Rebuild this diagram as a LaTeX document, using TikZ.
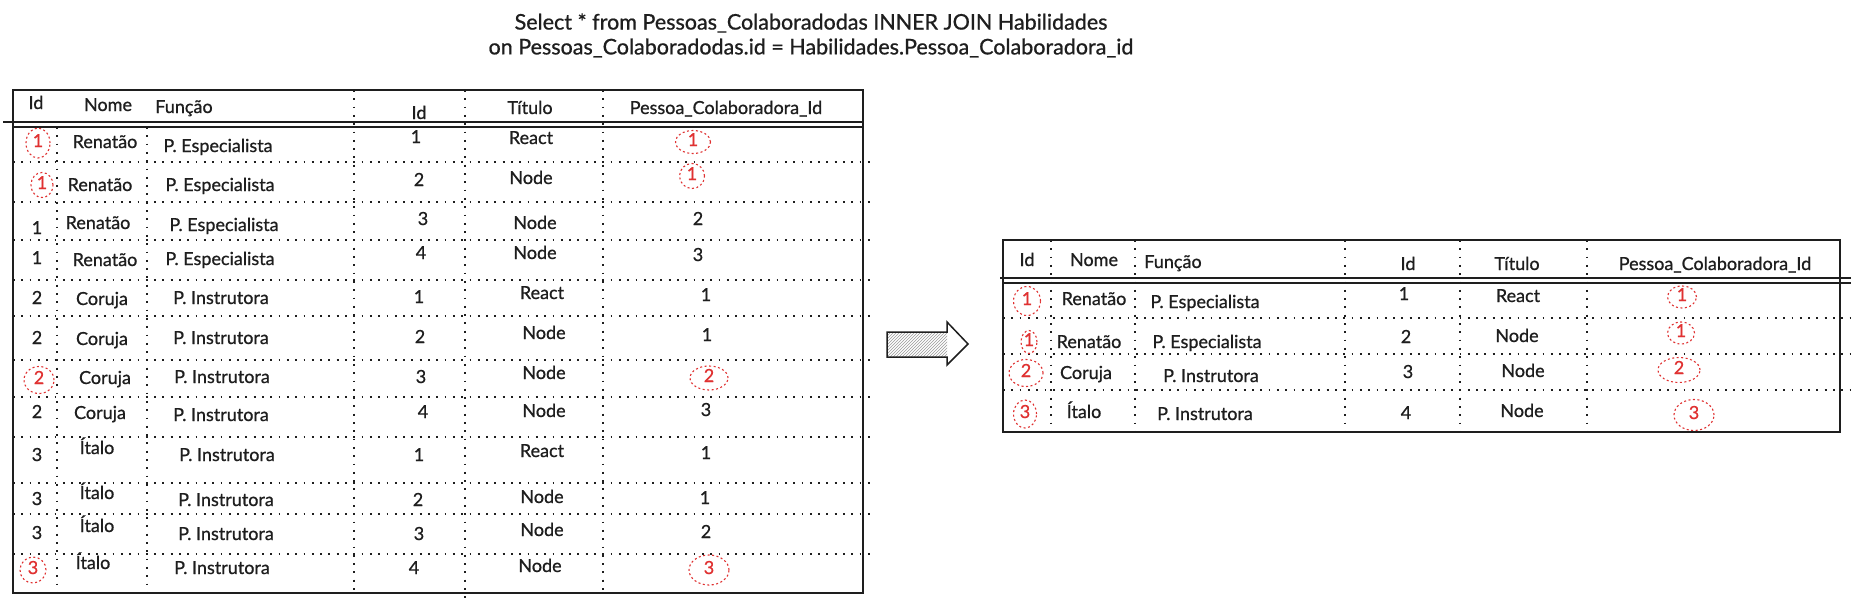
\documentclass[tikz,border=0pt]{standalone}
\usepackage{fontspec}
\setmainfont{Lato}[FakeBold=0.8]
\usetikzlibrary{shapes.geometric,patterns}
\definecolor{ink}{HTML}{1E1E1E}
\definecolor{redink}{HTML}{E03131}
\newcommand\tc[4]{\node[txt] (#1) at (#2,#3) {#4};}
\newcommand\redmk[6]{\node[rcirc, minimum width=#4pt, minimum height=#5pt] (#1) at (#2,#3) {};\node[txt,text=redink] (#1t) at (#1) {#6};}
\begin{document}
\begin{tikzpicture}[x=1pt,y=-1pt,
  txt/.style={font=\fontsize{18}{20}\selectfont, text=ink, inner sep=0pt, text height=12pt, text depth=4pt, anchor=center},
  ttl/.style={font=\fontsize{21.5}{24}\selectfont, text=ink, inner sep=0pt, anchor=center},
  rcirc/.style={ellipse, draw=redink, line width=1.1pt, dash pattern=on 2pt off 2.5pt, inner sep=0pt},
  dotl/.style={draw=ink, line width=1.8pt, dash pattern=on 1.8pt off 6.5pt},
  frame/.style={draw=ink, line width=1.6pt},
  sepl/.style={draw=ink, line width=1.3pt}]
\useasboundingbox[fill=white] (0,0) rectangle (1861,608);
% title
\node[ttl] (t1) at (811,23) {Select * from Pessoas\_Colaboradodas INNER JOIN Habilidades};
\node[ttl] (t2) at (811,48) {on Pessoas\_Colaboradodas.id = Habilidades.Pessoa\_Colaboradora\_id};
% ---------- left table ----------
\foreach \yy in {162,202,240,280,316,360,397,437,483,514,554}
  \draw[dotl] (13,\yy) -- (870,\yy);
\draw[dotl] (57,127) -- (57,593);
\draw[dotl] (147,127) -- (147,598);
\draw[dotl] (354,90) -- (354,593);
\draw[dotl] (465,90) -- (465,598);
\draw[dotl] (603,90) -- (603,593);
\draw[sepl] (3,122) -- (864,122);
\draw[sepl] (13,127) -- (864,127);
\draw[frame] (13,90) rectangle (863,593);
% header
\tc{lh1}{36}{105}{Id}
\tc{lh2}{108}{107}{Nome}
\tc{lh3}{184}{109}{Função}
\tc{lh4}{419}{115}{Id}
\tc{lh5}{530}{110}{Título}
\tc{lh6}{726}{110}{Pessoa\_Colaboradora\_Id}
% rows
\redmk{la1}{38}{143}{24}{30}{1}
\tc{lb1}{105}{144}{Renatão}
\tc{lc1}{218}{148}{P. Especialista}
\tc{ld1}{416}{139}{1}
\tc{le1}{531}{140}{React}
\redmk{lf1}{693}{142}{35}{23}{1}
\redmk{la2}{42}{185}{22}{25}{1}
\tc{lb2}{100}{187}{Renatão}
\tc{lc2}{220}{187}{P. Especialista}
\tc{ld2}{419}{182}{2}
\tc{le2}{531}{180}{Node}
\redmk{lf2}{692}{176}{25}{25}{1}
\tc{la3}{37}{230}{1}
\tc{lb3}{98}{225}{Renatão}
\tc{lc3}{224}{227}{P. Especialista}
\tc{ld3}{423}{221}{3}
\tc{le3}{535}{225}{Node}
\tc{lf3}{698}{221}{2}
\tc{la4}{37}{260}{1}
\tc{lb4}{105}{262}{Renatão}
\tc{lc4}{220}{261}{P. Especialista}
\tc{ld4}{421}{255}{4}
\tc{le4}{535}{255}{Node}
\tc{lf4}{698}{257}{3}
\tc{la5}{37}{300}{2}
\tc{lb5}{102}{301}{Coruja}
\tc{lc5}{221}{300}{P. Instrutora}
\tc{ld5}{419}{299}{1}
\tc{le5}{542}{295}{React}
\tc{lf5}{706}{297}{1}
\tc{la6}{37}{340}{2}
\tc{lb6}{102}{341}{Coruja}
\tc{lc6}{221}{340}{P. Instrutora}
\tc{ld6}{420}{339}{2}
\tc{le6}{544}{335}{Node}
\tc{lf6}{707}{337}{1}
\redmk{la7}{39}{380}{30}{27}{2}
\tc{lb7}{105}{380}{Coruja}
\tc{lc7}{222}{379}{P. Instrutora}
\tc{ld7}{421}{379}{3}
\tc{le7}{544}{375}{Node}
\redmk{lf7}{709}{378}{38}{24}{2}
\tc{la8}{37}{414}{2}
\tc{lb8}{100}{415}{Coruja}
\tc{lc8}{221}{417}{P. Instrutora}
\tc{ld8}{423}{414}{4}
\tc{le8}{544}{413}{Node}
\tc{lf8}{706}{412}{3}
\tc{la9}{37}{457}{3}
\tc{lb9}{97}{450}{Ítalo}
\tc{lc9}{227}{457}{P. Instrutora}
\tc{ld9}{419}{457}{1}
\tc{le9}{542}{453}{React}
\tc{lf9}{706}{455}{1}
\tc{la10}{37}{501}{3}
\tc{lb10}{97}{495}{Ítalo}
\tc{lc10}{226}{502}{P. Instrutora}
\tc{ld10}{418}{502}{2}
\tc{le10}{542}{499}{Node}
\tc{lf10}{705}{500}{1}
\tc{la11}{37}{535}{3}
\tc{lb11}{97}{528}{Ítalo}
\tc{lc11}{226}{536}{P. Instrutora}
\tc{ld11}{419}{536}{3}
\tc{le11}{542}{532}{Node}
\tc{lf11}{706}{534}{2}
\redmk{la12}{33}{570}{26}{26}{3}
\tc{lb12}{93}{565}{Ítalo}
\tc{lc12}{222}{570}{P. Instrutora}
\tc{ld12}{414}{570}{4}
\tc{le12}{540}{568}{Node}
\redmk{lf12}{709}{570}{40}{30}{3}
% ---------- arrow ----------
\fill[pattern=north east lines, pattern color=ink!45] (887,332) rectangle (947,357);
\draw[ink, line width=1.5pt, line join=miter] (887,332) -- (947,332) -- (947,322) -- (968,344) -- (947,365) -- (947,357) -- (887,357) -- cycle;
% ---------- right table ----------
\foreach \yy in {318,354,390}
  \draw[dotl] (1003,\yy) -- (1851,\yy);
\foreach \xx in {1051,1135,1345,1460,1587}
  \draw[dotl] (\xx,240) -- (\xx,432);
\draw[sepl] (1000,278) -- (1851,278);
\draw[sepl] (1003,283) -- (1851,283);
\draw[frame] (1003,240) rectangle (1840,432);
\tc{rh1}{1027}{262}{Id}
\tc{rh2}{1094}{262}{Nome}
\tc{rh3}{1173}{264}{Função}
\tc{rh4}{1408}{266}{Id}
\tc{rh5}{1517}{266}{Título}
\tc{rh6}{1715}{266}{Pessoa\_Colaboradora\_Id}
\redmk{ra1}{1027}{301}{27}{29}{1}
\tc{rb1}{1094}{301}{Renatão}
\tc{rc1}{1205}{304}{P. Especialista}
\tc{rd1}{1404}{296}{1}
\tc{re1}{1518}{298}{React}
\redmk{rf1}{1682}{297}{29}{22}{1}
\redmk{ra2}{1029}{342}{16}{23}{1}
\tc{rb2}{1089}{344}{Renatão}
\tc{rc2}{1207}{344}{P. Especialista}
\tc{rd2}{1406}{339}{2}
\tc{re2}{1517}{338}{Node}
\redmk{rf2}{1681}{333}{27}{22}{1}
\redmk{ra3}{1026}{373}{34}{27}{2}
\tc{rb3}{1086}{375}{Coruja}
\tc{rc3}{1211}{378}{P. Instrutora}
\tc{rd3}{1408}{374}{3}
\tc{re3}{1523}{373}{Node}
\redmk{rf3}{1679}{370}{42}{25}{2}
\redmk{ra4}{1025}{414}{23}{28}{3}
\tc{rb4}{1084}{414}{Ítalo}
\tc{rc4}{1205}{416}{P. Instrutora}
\tc{rd4}{1406}{415}{4}
\tc{re4}{1522}{413}{Node}
\redmk{rf4}{1694}{415}{40}{31}{3}
\end{tikzpicture}
\end{document}
